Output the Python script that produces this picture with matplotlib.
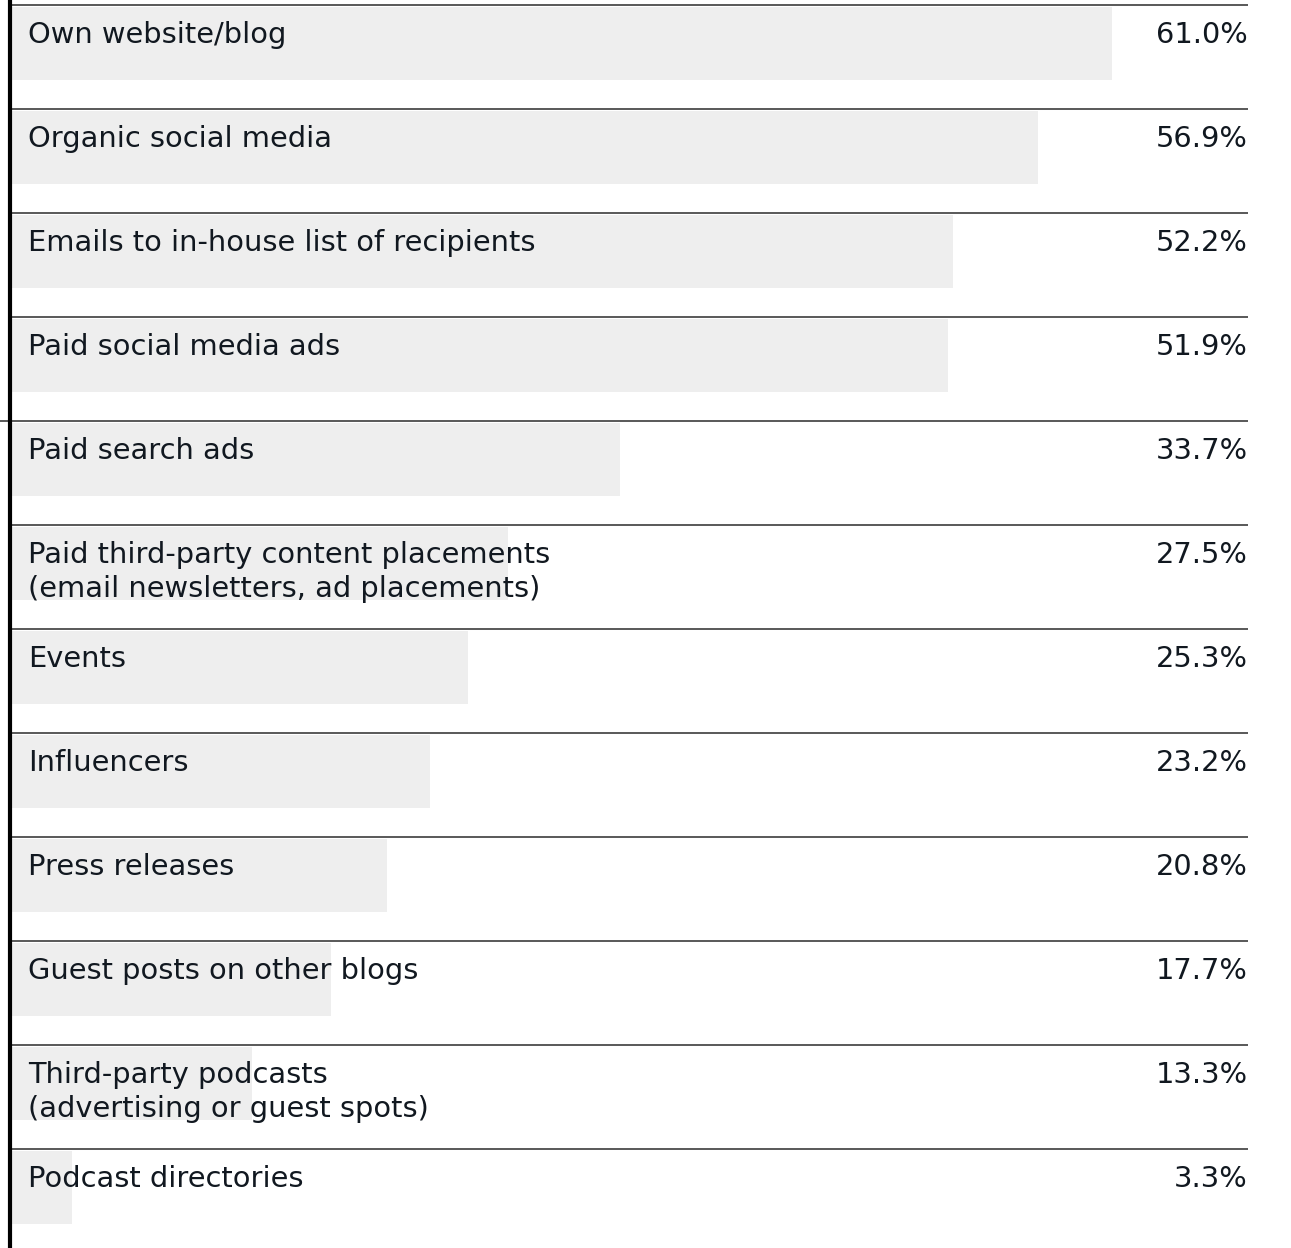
import matplotlib
matplotlib.use("Agg")
import matplotlib.pyplot as plt
from matplotlib.transforms import blended_transform_factory

plt.rcParams['font.family'] = ['DejaVu Sans']

categories = [
    "Own website/blog",
    "Organic social media",
    "Emails to in-house list of recipients",
    "Paid social media ads",
    "Paid search ads",
    "Paid third-party content placements\n(email newsletters, ad placements)",
    "Events",
    "Influencers",
    "Press releases",
    "Guest posts on other blogs",
    "Third-party podcasts\n(advertising or guest spots)",
    "Podcast directories",
]
values = [61.0, 56.9, 52.2, 51.9, 33.7, 27.5, 25.3, 23.2, 20.8, 17.7, 13.3, 3.3]
value_labels = ["61.0%", "56.9%", "52.2%", "51.9%", "33.7%", "27.5%",
                "25.3%", "23.2%", "20.8%", "17.7%", "13.3%", "3.3%"]

W, H = 1291, 1248
fig = plt.figure(figsize=(W / 100, H / 100), dpi=100)
ax = fig.add_axes([0, 0, 1, 1])

px_per_unit = 18.033          # horizontal pixels per percentage point
x0_px = 12                    # pixel where the bars start
row_px = 104                  # height of a row in pixels
top_px = 5                    # first divider line

ax.set_xlim(-x0_px / px_per_unit, (W - x0_px) / px_per_unit)
ax.set_ylim((H - top_px) / row_px, -top_px / row_px)
ax.axis("off")

text_color = "#111820"
fs = 20.8
bar_h = 73 / row_px
baseline = 38 / row_px
line_step = 34 / row_px
trans = blended_transform_factory(ax.transAxes, ax.transData)

for i, (cat, v, lab) in enumerate(zip(categories, values, value_labels)):
    ax.barh(i + 1.5 / row_px, v, height=bar_h, align="edge",
            color="#eeeeee", linewidth=0, zorder=1)
    start = 0 if i == 4 else 10 / W
    ax.plot([start, 1248 / W], [i, i], transform=trans,
            color="#2b2b2b", lw=1.1, zorder=3, solid_capstyle="butt")
    for k, line in enumerate(cat.split("\n")):
        ax.text(28 / W, i + baseline + k * line_step, line, transform=trans,
                ha="left", va="baseline", fontsize=fs, color=text_color,
                zorder=4)
    ax.text(1248 / W, i + baseline, lab, transform=trans,
            ha="right", va="baseline", fontsize=fs, color=text_color, zorder=4)

# thick left rule
ax.axvline(-2 / px_per_unit, color="black", lw=3.0, zorder=5)

fig.savefig("out.png", dpi=100)
